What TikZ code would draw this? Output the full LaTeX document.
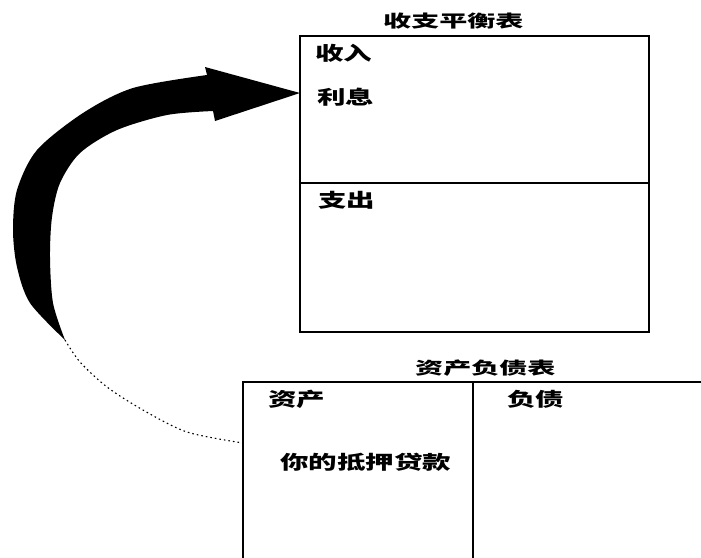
\documentclass[tikz,border=0pt]{standalone}
\usepackage{fontspec}
\newfontfamily\cjk[FakeStretch=1.5]{Noto Sans CJK SC}
\newfontfamily\cjkt[FakeStretch=1.65]{Noto Sans CJK SC}
\begin{document}
\begin{tikzpicture}[x=1pt,y=-1pt,
  boxline/.style={line width=1.8pt,line cap=rect},
  lbl/.style={anchor=west,inner sep=0pt,font=\cjk\bfseries\fontsize{19}{19}\selectfont},
  ttl/.style={anchor=west,inner sep=0pt,font=\cjkt\bfseries\fontsize{17}{17}\selectfont},
  tailline/.style={line width=1.1pt,dash pattern=on 1.6pt off 3pt}]
\useasboundingbox (0,0) rectangle (701,557);
% income statement box
\draw[boxline] (300,36) rectangle (649,332);
\draw[boxline] (300,183) -- (649,183);
\node[ttl] (t1) at (383,21) {收支平衡表};
\node[lbl] (inc) at (315,53) {收入};
\node[lbl] (int) at (317,97) {利息};
\node[lbl] (exp) at (318,200) {支出};
% balance sheet
\draw[boxline] (243,557) -- (243,382) -- (701,382);
\draw[boxline] (473,382) -- (473,557);
\node[ttl] (t2) at (415,368) {资产负债表};
\node[lbl] (ast) at (268,399) {资产};
\node[lbl] (lia) at (507,399) {负债};
\node[lbl] (mort) at (280,462) {你的抵押贷款};
% arrow
\coordinate (tip) at (300,93);
\coordinate (tailend) at (243,443);
\coordinate (bandend) at (65,340);
\fill plot[smooth] coordinates {(bandend) (30,303) (17,267) (13,230) (17,190) (37,150) (83,113) (133,88) (207,75)}
  -- (205,67) -- (tip) -- (215,121)
  -- plot[smooth] coordinates {(213,111) (167,115) (117,130) (80,153) (60,183) (52,217) (50,257) (53,303) (bandend)} -- cycle;
\draw[tailline] plot[smooth] coordinates {(bandend) (80,362) (107,387) (143,410) (187,432) (tailend)};
\end{tikzpicture}
\end{document}
